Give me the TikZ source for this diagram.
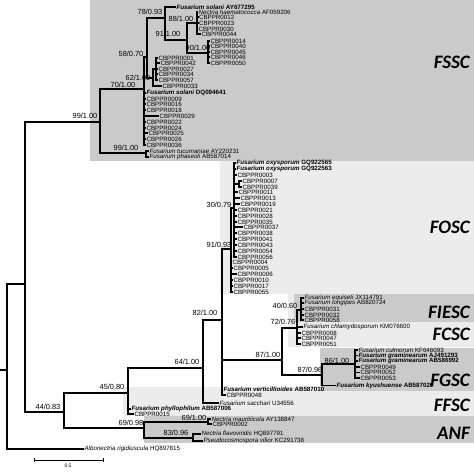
\documentclass[tikz,border=0pt]{standalone}
\usepackage{fontspec}
\setmainfont{Liberation Sans}
\newfontfamily\cladefont{Carlito}
\usetikzlibrary{positioning}
\definecolor{BoxDark}{HTML}{CACACA}
\definecolor{BoxLight}{HTML}{ECECEC}

\begin{document}
\begin{tikzpicture}[
  x=1pt,y=-1pt,
  br/.style={line width=1.2pt,draw=black},
  leaf/.style={anchor=west,inner sep=0.4pt,font=\fontsize{6.2}{7}\selectfont},
  supp/.style={inner sep=0pt,font=\fontsize{7.4}{8}\selectfont},
  clade/.style={anchor=east,inner sep=0pt,font=\cladefont\bfseries\itshape\fontsize{19}{20}\selectfont},
  dark/.style={fill=BoxDark},
  light/.style={fill=BoxLight}
]
\useasboundingbox (0,0) rectangle (474,472);
% clade boxes
\fill[dark]  (90,0)      rectangle (474,160.5);
\fill[light] (220,160.5) rectangle (474,294);
\fill[light] (288,294)   rectangle (474,347);
\fill[dark]  (294,294)   rectangle (474,322);
\fill[light] (123,387)   rectangle (474,416);
\fill[dark]  (320,348)   rectangle (474,391);
\fill[dark]  (144,416)   rectangle (474,443);

% internal nodes
\coordinate (stub) at (0,370);
\coordinate (r)    at (7,370);
\coordinate (nA)   at (25,284);
\coordinate (n99a) at (100,122);
\coordinate (n70)  at (144,89);
\coordinate (n58)  at (147,57);
\coordinate (n78)  at (165,18);
\coordinate (n91)  at (187,40);
\coordinate (n88)  at (197,23);
\coordinate (n90)  at (208,53);
\coordinate (n62)  at (153,78);
\coordinate (n62s) at (156,69);
\coordinate (n99b) at (146,153);
\coordinate (n44)  at (64,412);
\coordinate (n45)  at (128,393);
\coordinate (n64)  at (203,368);
\coordinate (n82)  at (222,320);
\coordinate (n91b) at (231,249);
\coordinate (n30)  at (234,208);
\coordinate (n30s) at (239,184);
\coordinate (n87)  at (282,360);
\coordinate (n72)  at (297,328);
\coordinate (n40)  at (301,310);
\coordinate (n87b) at (322,375);
\coordinate (n86)  at (355,364);
\coordinate (n69)  at (144,428);
\coordinate (n69b) at (208,422);
\coordinate (n83)  at (193,438);

% backbone
\draw[br] (stub) -- (r);
\draw[br] (r) |- (nA);
\draw[br] (nA) |- (n99a);
\draw[br] (nA) |- (n44);
\draw[br] (n99a) |- (n70);
\draw[br] (n99a) |- (n99b);
\draw[br] (n70) |- (n58);
\draw[br] (n58) |- (n78);
\draw[br] (n58) |- (n62);
\draw[br] (n78) |- (n91);
\draw[br] (n91) |- (n88);
\draw[br] (n91) |- (n90);
\draw[br] (n62) |- (n62s);
\draw[br] (n44) |- (n45);
\draw[br] (n44) |- (n69);
\draw[br] (n45) |- (n64);
\draw[br] (n64) |- (n82);
\draw[br] (n82) |- (n91b);
\draw[br] (n91b) |- (n30);
\draw[br] (n30) |- (n30s);
\draw[br] (n82) |- (n87);
\draw[br] (n87) |- (n72);
\draw[br] (n72) |- (n40);
\draw[br] (n87) |- (n87b);
\draw[br] (n87b) |- (n86);
\draw[br] (n69) |- (n69b);
\draw[br] (n69) |- (n83);

% FSSC leaves
\node[leaf] (fsAY) at (176,7) {\textbf{\textit{Fusarium solani} AY677295}};
\draw[br] (n78) |- (fsAY.west);
\node[leaf] (nhAF) at (198,12) {\textit{Nectria haematococca} AF059206};
\draw[br] (n88) |- (nhAF.west);
\foreach \id/\x/\y in {0012/198.5/17,0023/198.5/23,0030/198/29,0044/201/34}
  {\node[leaf] (c\id) at (\x,\y) {CBPPR\id}; \draw[br] (n88) |- (c\id.west);}
\foreach \id/\y in {0014/41,0040/46,0045/52,0046/57,0050/63}
  {\node[leaf] (c\id) at (210,\y) {CBPPR\id}; \draw[br] (n90) |- (c\id.west);}
\foreach \id/\x/\y in {0001/158/58,0042/160/63,0027/158/69,0034/158/74,0057/158/80}
  {\node[leaf] (c\id) at (\x,\y) {CBPPR\id}; \draw[br] (n62s) |- (c\id.west);}
\node[leaf] (c0033) at (162,86) {CBPPR0033};
\draw[br] (n62) |- (c0033.west);
\node[leaf] (fsDQ) at (146,93) {\textbf{\textit{Fusarium solani} DQ094641}};
\draw[br] (n70) |- (fsDQ.west);
\foreach \id/\x/\y in {0009/146/99,0016/146/104,0018/146/110,0029/159/116,0022/146/122,
                       0024/146/128,0025/148/133,0026/146/139,0036/146/145}
  {\node[leaf] (c\id) at (\x,\y) {CBPPR\id}; \draw[br] (n70) |- (c\id.west);}
\node[leaf] (ftAY) at (149,151) {\textit{Fusarium tucumaniae} AY220231};
\node[leaf] (fpAB) at (149,157) {\textit{Fusarium phaseoli} AB587014};
\draw[br] (n99b) |- (ftAY.west);
\draw[br] (n99b) |- (fpAB.west);

% FOSC leaves
\node[leaf] (foGQa) at (236,163) {\textbf{\textit{Fusarium oxysporum} GQ922565}};
\node[leaf] (foGQb) at (236,169) {\textbf{\textit{Fusarium oxysporum} GQ922563}};
\draw[br] (n30) |- (foGQa.west);
\draw[br] (n30) |- (foGQb.west);
\foreach \id/\x/\y in {0003/237/175,0011/238/192,0013/240/198,0019/240/204,0021/237/210,
                       0028/237/216,0035/237/222,0037/243/227,0038/237/233,0041/237/239,
                       0043/237/245,0054/237/251,0056/237/257}
  {\node[leaf] (c\id) at (\x,\y) {CBPPR\id}; \draw[br] (n30) |- (c\id.west);}
\foreach \id/\y in {0007/181,0039/187}
  {\node[leaf] (c\id) at (242,\y) {CBPPR\id}; \draw[br] (n30s) |- (c\id.west);}
\foreach \id/\x/\y in {0004/232/262,0005/233/268,0006/237/274,0010/233/280,0017/233/286,0055/233/292}
  {\node[leaf] (c\id) at (\x,\y) {CBPPR\id}; \draw[br] (n91b) |- (c\id.west);}

% FIESC and FCSC leaves
\node[leaf] (feJX) at (304,298) {\textit{Fusarium equiseti} JX114791};
\node[leaf] (flAB) at (304,303) {\textit{Fusarium longipes} AB820724};
\draw[br] (n40) |- (feJX.west);
\draw[br] (n40) |- (flAB.west);
\foreach \id/\y in {0031/309,0032/315,0058/320}
  {\node[leaf] (c\id) at (304,\y) {CBPPR\id}; \draw[br] (n40) |- (c\id.west);}
\node[leaf] (fcKM) at (303,327) {\textit{Fusarium chlamydosporum} KM076600};
\draw[br] (n72) |- (fcKM.west);
\foreach \id/\y in {0008/333,0047/338,0051/344}
  {\node[leaf] (c\id) at (301,\y) {CBPPR\id}; \draw[br] (n72) |- (c\id.west);}

% FGSC leaves
\node[leaf] (fcuKF) at (358,350) {\textit{Fusarium culmorum} KF646093};
\node[leaf] (fgAJ) at (358,355.5) {\textbf{\textit{Fusarium graminearum} AJ491293}};
\node[leaf] (fgAB) at (358,361) {\textbf{\textit{Fusarium graminearum} AB586992}};
\draw[br] (n86) |- (fcuKF.west);
\draw[br] (n86) |- (fgAJ.west);
\draw[br] (n86) |- (fgAB.west);
\foreach \id/\y in {0049/367,0052/372.5,0053/378}
  {\node[leaf] (c\id) at (360,\y) {CBPPR\id}; \draw[br] (n86) |- (c\id.west);}
\node[leaf] (fkAB) at (336,385.5) {\textbf{\textit{Fusarium kyushuense} AB587020}};
\draw[br] (n87b) |- (fkAB.west);

% FFSC leaves
\node[leaf] (fvAB) at (223,389) {\textbf{\textit{Fusarium verticillioides} AB587010}};
\node[leaf] (c0048) at (226,395) {CBPPR0048};
\draw[br] (n82) |- (fvAB.west);
\draw[br] (n82) |- (c0048.west);
\node[leaf] (fsU) at (219,403) {\textit{Fusarium sacchari} U34556};
\draw[br] (n64) |- (fsU.west);
\node[leaf] (fphAB) at (131,409) {\textbf{\textit{Fusarium phyllophilum} AB587006}};
\node[leaf] (c0015) at (134,414) {CBPPR0015};
\draw[br] (n45) |- (fphAB.west);
\draw[br] (n45) |- (c0015.west);

% ANF and outgroup
\node[leaf] (nmAY) at (211,419) {\textit{Nectria mauritiicola} AY138847};
\node[leaf] (c0002) at (212,424) {CBPPR0002};
\draw[br] (n69b) |- (nmAY.west);
\draw[br] (n69b) |- (c0002.west);
\node[leaf] (nfHQ) at (201,434) {\textit{Nectria flavoviridis} HQ897791};
\node[leaf] (pvKC) at (203,441) {\textit{Pseudocosmospora vilior} KC291738};
\draw[br] (n83) |- (nfHQ.west);
\draw[br] (n83) |- (pvKC.west);
\node[leaf] (arHQ) at (84,449) {\textit{Albonectria rigidiuscula} HQ897815};
\draw[br] (r) |- (arHQ.west);

% support values
\node[supp] (s99a) at (85,116)  {99/1.00};
\node[supp] (s70)  at (123,85)  {70/1.00};
\node[supp] (s58)  at (131,54)  {58/0.70};
\node[supp] (s78)  at (150,12)  {78/0.93};
\node[supp] (s91)  at (168,34)  {91/1.00};
\node[supp] (s88)  at (181,19)  {88/1.00};
\node[supp] (s90)  at (198,48)  {90/1.00};
\node[supp] (s62)  at (138,78)  {62/1.00};
\node[supp] (s99b) at (126,148) {99/1.00};
\node[supp] (s44)  at (48,407)  {44/0.83};
\node[supp] (s45)  at (112,387) {45/0.80};
\node[supp] (s69)  at (131,423) {69/0.98};
\node[supp] (s64)  at (187,362) {64/1.00};
\node[supp] (s82)  at (205,313) {82/1.00};
\node[supp] (s91b) at (219,245) {91/0.93};
\node[supp] (s30)  at (219,205) {30/0.79};
\node[supp] (s40)  at (285,306) {40/0.60};
\node[supp] (s72)  at (283,322) {72/0.76};
\node[supp] (s87)  at (268,355) {87/1.00};
\node[supp] (s87b) at (310,370) {87/0.96};
\node[supp] (s86)  at (337,361) {86/1.00};
\node[supp] (s69b) at (194,418) {69/1.00};
\node[supp] (s83)  at (176,433) {83/0.96};

% clade names
\node[clade] (kFSSC)  at (470,62)  {FSSC};
\node[clade] (kFOSC)  at (470,227) {FOSC};
\node[clade] (kFIESC) at (470,312) {FIESC};
\node[clade] (kFCSC)  at (470,334) {FCSC};
\node[clade] (kFGSC)  at (470,380) {FGSC};
\node[clade] (kFFSC)  at (470,405) {FFSC};
\node[clade] (kANF)   at (470,433) {ANF};

% scale bar
\coordinate (sb1) at (34,460);
\coordinate (sb2) at (103,460);
\draw[line width=0.8pt] (sb1) -- (sb2);
\draw[line width=0.8pt] ([yshift=-2pt]sb1) -- ([yshift=2pt]sb1);
\draw[line width=0.8pt] ([yshift=-2pt]sb2) -- ([yshift=2pt]sb2);
\node[font=\fontsize{5}{6}\selectfont,inner sep=0pt] (sbl) at (68,466) {0.5};
\end{tikzpicture}
\end{document}
